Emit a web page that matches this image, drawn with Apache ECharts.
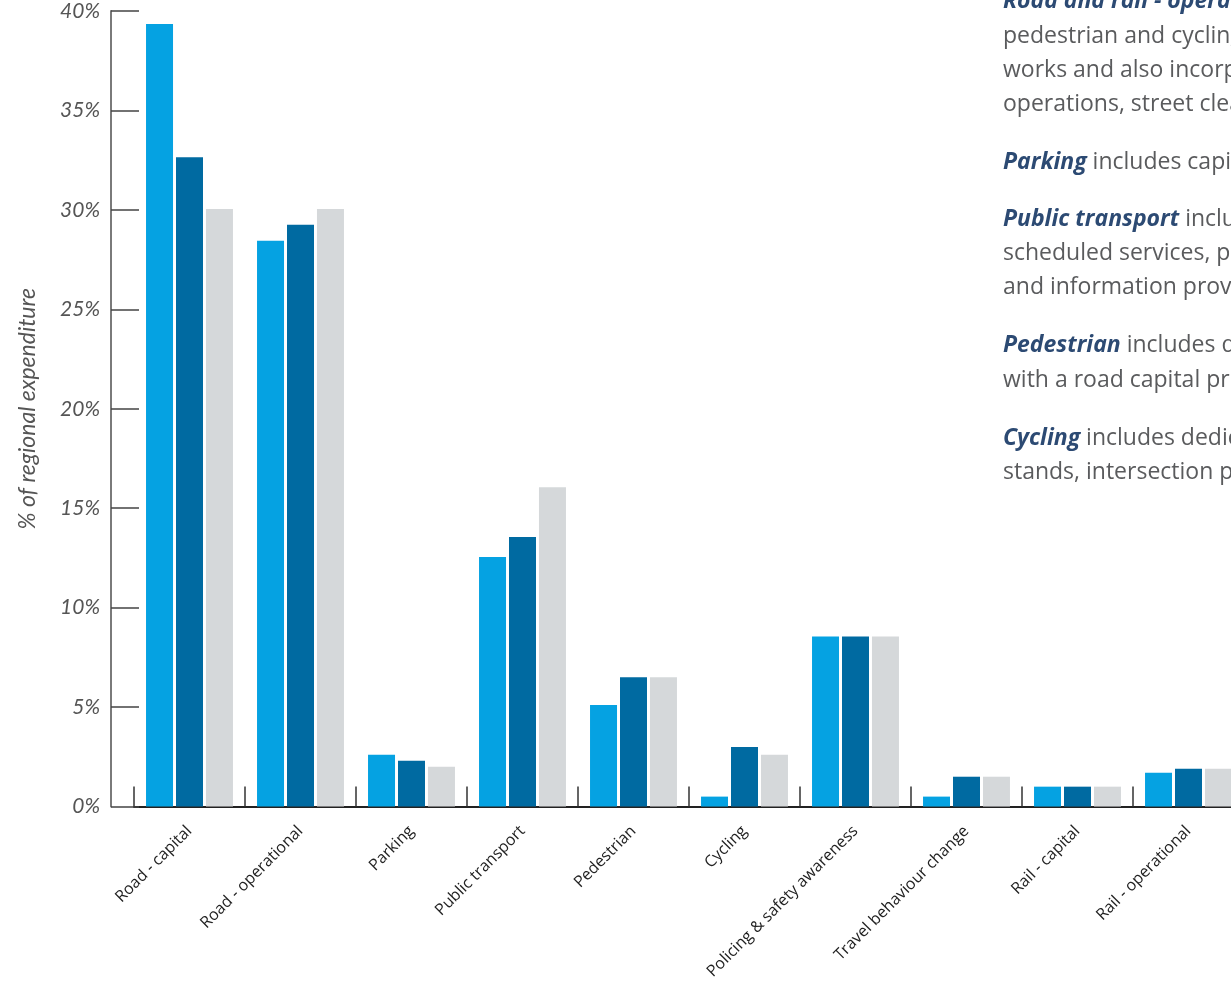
<!DOCTYPE html>
<html><head><meta charset="utf-8">
<script src="https://cdn.jsdelivr.net/npm/echarts@6/dist/echarts.min.js"></script>
<style>html,body{margin:0;padding:0;overflow:hidden;background:#fff}#c{width:1300px;height:982px}</style>
</head><body><div id="c"></div>
<script>
const categories = ['Road - capital','Road - operational','Parking','Public transport','Pedestrian','Cycling','Policing & safety awareness','Travel behaviour change','Rail - capital','Rail - operational'];
const seriesA = [39.35, 28.45, 2.6, 12.55, 5.1, 0.5, 8.55, 0.5, 1.0, 1.7];
const seriesB = [32.65, 29.25, 2.3, 13.55, 6.5, 3.0, 8.55, 1.5, 1.0, 1.9];
const seriesC = [30.05, 30.05, 2.0, 16.05, 6.5, 2.6, 8.55, 1.5, 1.0, 1.9];
const seriesNames = ['Period 1','Period 2','Period 3'];
const yTicks = [0,5,10,15,20,25,30,35,40];
const notes = [
  [['b','Road and rail - operational'],['n',' includes maintenance of roads,']],
  [['n','pedestrian and cycling facilities, minor safety']],
  [['n','works and also incorporates network']],
  [['n','operations, street cleaning and lighting.']],
  [['b','Parking'],['n',' includes capital and operational costs.']],
  [['b','Public transport'],['n',' includes bus, rail and ferry']],
  [['n','scheduled services, passenger facilities']],
  [['n','and information provision.']],
  [['b','Pedestrian'],['n',' includes dedicated facilities not built']],
  [['n','with a road capital project.']],
  [['b','Cycling'],['n',' includes dedicated cycle lanes, cycle']],
  [['n','stands, intersection priority measures.']]
];
const noteBaselines = [7, 42, 76, 110, 168, 225, 259, 293, 351, 386, 444, 478];

const chart = echarts.init(document.getElementById('c'), null, {renderer:'canvas'});
const colors = ['#05a2e2','#006aa1','#d5d8da'];
const graphic = notes.map((parts, i) => ({
  type: 'text', left: 1003, top: noteBaselines[i] - 17, silent: true,
  style: {
    text: parts.map(p => '{' + p[0] + '|' + p[1] + '}').join(''),
    rich: {
      b: {fontFamily:'Open Sans', fontSize:23, fontStyle:'italic', fontWeight:'bold', fill:'#2c4a73', lineHeight:30},
      n: {fontFamily:'Open Sans', fontSize:23, fill:'#5a5b5d', lineHeight:30}
    }
  }
}));
chart.setOption({
  animation: false,
  color: colors,
  grid: {left: 134, right: 56, top: 11, bottom: 174, containLabel: false},
  xAxis: {
    type: 'category', data: categories, boundaryGap: true,
    axisLine: {show: true, lineStyle: {color:'#222', width:2}},
    axisTick: {show: true, inside: true, length: 20, alignWithLabel: false, interval: 0, lineStyle: {color:'#333', width:1.5}},
    axisLabel: {rotate: 45, margin: 22, fontFamily:'Open Sans', fontSize: 16, color:'#222', interval: 0}
  },
  yAxis: {
    type: 'value', min: 0, max: 40, interval: 5, offset: 23,
    name: '% of regional expenditure', nameLocation: 'middle', nameGap: 72,
    nameTextStyle: {fontFamily:'Lato', fontStyle:'italic', fontSize: 23, color:'#555'},
    axisLine: {show: true, lineStyle: {color:'#7a7a7a', width:2}},
    axisTick: {show: true, inside: true, length: 28, lineStyle: {color:'#444', width:1.5}},
    splitLine: {show: false},
    axisLabel: {margin: 11, fontFamily:'Lato', fontStyle:'italic', fontSize: 21, color:'#555',
      formatter: v => yTicks.includes(v) ? v + '%' : ''}
  },
  series: [seriesA, seriesB, seriesC].map((d, i) => ({
    type: 'bar', name: seriesNames[i], data: d, barWidth: 27, barGap: '11%',
    itemStyle: {color: colors[i]}, z: 1
  })),
  graphic: graphic
});
</script></body></html>
